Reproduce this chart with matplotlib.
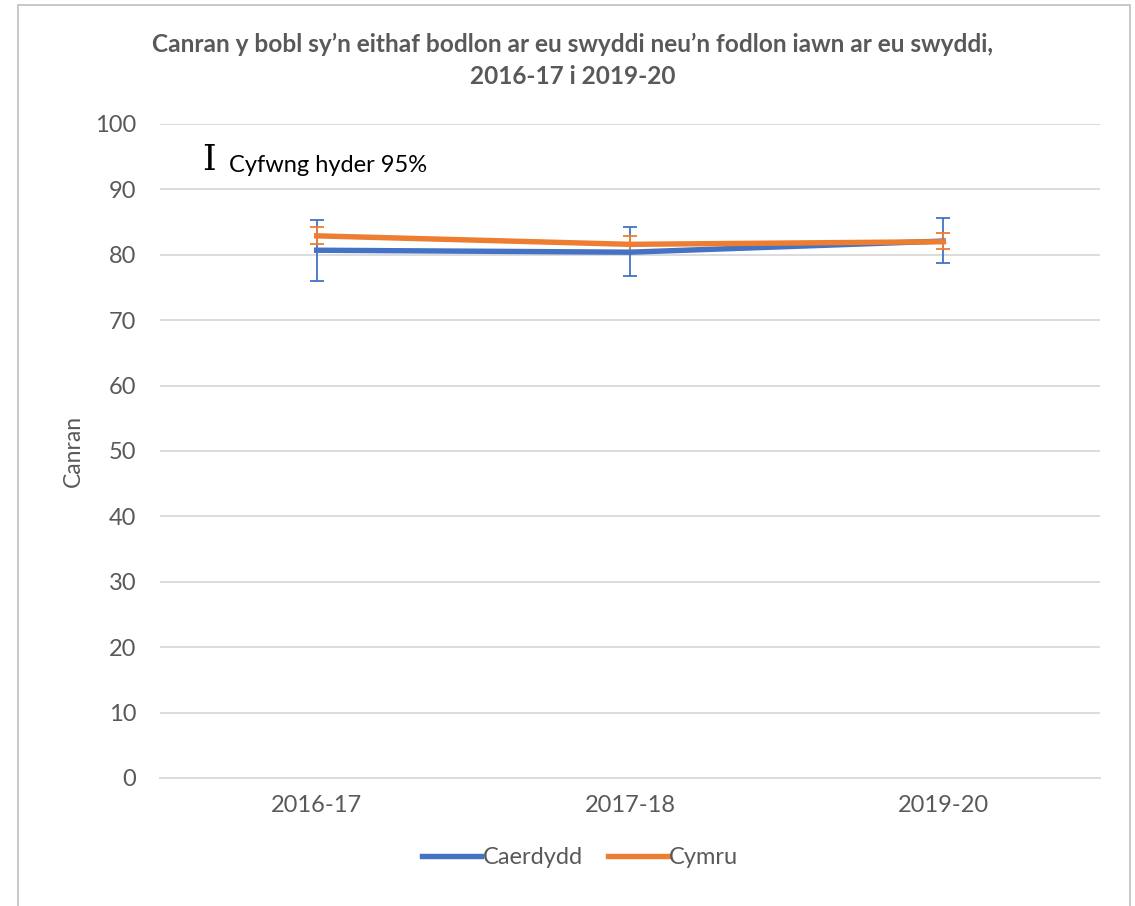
import matplotlib.pyplot as plt
from matplotlib.patches import Rectangle
from matplotlib.lines import Line2D
import numpy as np

years = ['2016-17', '2017-18', '2019-20']
caerdydd = [80.7, 80.4, 82.1]
caerdydd_low = [76.0, 76.7, 78.8]
caerdydd_high = [85.3, 84.2, 85.6]
cymru = [82.9, 81.6, 82.0]
cymru_low = [81.7, 80.5, 80.9]
cymru_high = [84.2, 82.9, 83.3]

BLUE = '#4472C4'
ORANGE = '#ED7D31'
GREY = '#595959'

plt.rcParams['font.family'] = ['Lato', 'DejaVu Sans']

fig = plt.figure(figsize=(11.35, 9.06), dpi=100)
ax = fig.add_axes([160 / 1135, 1 - 778 / 906, 940 / 1135, 654 / 906])

x = np.arange(len(years))
for vals, lo, hi, col in [(caerdydd, caerdydd_low, caerdydd_high, BLUE),
                          (cymru, cymru_low, cymru_high, ORANGE)]:
    vals = np.array(vals)
    yerr = [vals - np.array(lo), np.array(hi) - vals]
    ax.errorbar(x, vals, yerr=yerr, color=col, lw=3.9, elinewidth=1.3,
                capsize=5, capthick=1.3, zorder=3)

ax.set_xlim(-0.5, 2.5)
ax.set_ylim(0, 100)
ax.set_yticks(range(0, 101, 10))
ax.set_xticks(x)
ax.set_xticklabels(years)
ax.grid(axis='y', color='#d9d9d9', lw=1.3)
ax.set_axisbelow(True)
for s in ['top', 'right', 'left']:
    ax.spines[s].set_visible(False)
ax.spines['bottom'].set_color('#d9d9d9')
ax.spines['bottom'].set_linewidth(1.3)
ax.tick_params(axis='y', length=0, labelsize=17, colors=GREY, pad=17)
ax.tick_params(axis='x', length=0, labelsize=17, colors=GREY, pad=12)
ax.set_ylabel('Canran', fontsize=16.5, color=GREY, labelpad=8)

# title as two centred lines
fig.text(573 / 1135, 1 - 44 / 906,
         'Canran y bobl sy\u2019n eithaf bodlon ar eu swyddi neu\u2019n fodlon iawn ar eu swyddi,',
         fontsize=17.6, fontweight='bold', color=GREY, ha='center', va='center')
fig.text(573 / 1135, 1 - 77 / 906, '2016-17 i 2019-20',
         fontsize=17.6, fontweight='bold', color=GREY, ha='center', va='center')

ax.text(0.045, 0.945, 'I', transform=ax.transAxes, fontsize=25,
        family='DejaVu Serif', va='center', ha='left', color='black')
ax.text(0.073, 0.937, 'Cyfwng hyder 95%', transform=ax.transAxes,
        fontsize=17, va='center', ha='left', color='black')

handles = [Line2D([], [], color=BLUE, lw=3.9), Line2D([], [], color=ORANGE, lw=3.9)]
fig.legend(handles, ['Caerdydd', 'Cymru'], loc='center', bbox_to_anchor=(580 / 1135, 1 - 858 / 906),
           ncol=2, frameon=False, fontsize=17, handlelength=2.5, handletextpad=0.05,
           columnspacing=1.1, labelcolor=GREY)

fig.patches.append(Rectangle((18 / 1135, -0.01), 1112 / 1135, 1 - 5 / 906 + 0.01,
                             transform=fig.transFigure, fill=False, ec='#bfbfbf', lw=1.2))

fig.savefig('out.png', dpi=100, facecolor='white')
